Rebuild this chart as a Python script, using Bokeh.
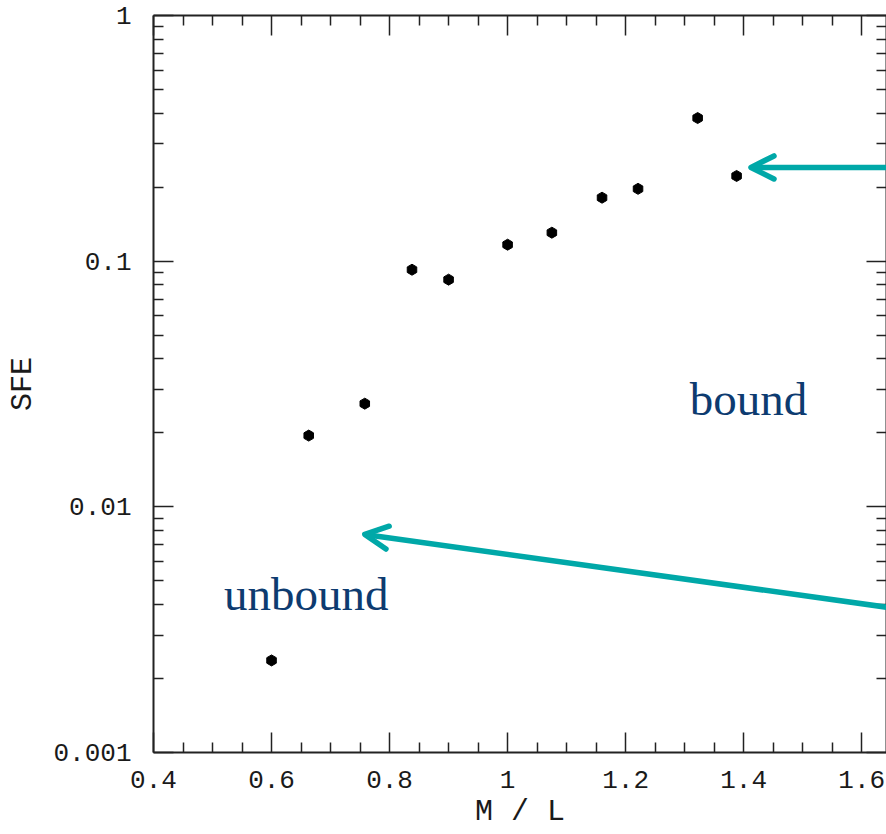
import numpy as np
from bokeh.plotting import figure
from bokeh.models import (LinearAxis, LogAxis, FixedTicker, CustomJSTickFormatter,
                          Arrow, OpenHead, Label, Range1d, ColumnDataSource)
from bokeh.embed import file_html
from bokeh.resources import INLINE

# ---- data ----
ml = [0.600, 0.663, 0.758, 0.838, 0.900, 1.000, 1.075, 1.160, 1.221, 1.322, 1.388]
sfe = [0.00237, 0.0195, 0.0263, 0.0923, 0.0841, 0.1167, 0.1306, 0.1813, 0.197, 0.3825, 0.2222]

x_ticks = [0.4, 0.6, 0.8, 1.0, 1.2, 1.4, 1.6]
x_tick_labels = ["0.4", "0.6", "0.8", "1", "1.2", "1.4", "1.6"]
y_ticks = [0.001, 0.01, 0.1, 1.0]
y_tick_labels = ["0.001", "0.01", "0.1", "1"]

x_min, x_max = 0.4, 1.642
y_min, y_max = 0.001, 1.0

x_minor = [round(v, 2) for v in np.arange(0.4, 1.70, 0.05) if round(v, 2) not in x_ticks]
y_minor = [m * 10.0 ** e for e in (-3, -2, -1) for m in range(2, 10)]

TEAL = "#00a8a8"
NAVY = "#0d3b70"
AX = "#222222"
TICK_FONT = "Liberation Mono"

p = figure(width=886, height=834, x_range=Range1d(x_min, x_max),
           y_range=Range1d(y_min, y_max), y_axis_type="log",
           output_backend="svg", toolbar_location=None,
           min_border_left=153, min_border_right=0, min_border_top=15,
           min_border_bottom=82, background_fill_color="white",
           border_fill_color="white")
p.xgrid.visible = False
p.ygrid.visible = False
p.outline_line_color = None

xt = FixedTicker(ticks=x_ticks, minor_ticks=x_minor)
yt = FixedTicker(ticks=y_ticks, minor_ticks=y_minor)


def style(ax):
    ax.major_tick_in = 20
    ax.major_tick_out = 0
    ax.minor_tick_in = 10
    ax.minor_tick_out = 0
    ax.axis_line_width = 2
    ax.axis_line_color = AX
    ax.major_tick_line_width = 1.5
    ax.minor_tick_line_width = 1.5
    ax.major_tick_line_color = AX
    ax.minor_tick_line_color = AX
    ax.major_label_text_font = TICK_FONT
    ax.major_label_text_font_size = "26px"
    ax.major_label_text_color = "#1a1a1a"
    ax.axis_label_text_font = TICK_FONT
    ax.axis_label_text_font_size = "30px"
    ax.axis_label_text_font_style = "normal"
    ax.axis_label_text_color = "#1a1a1a"


xb = p.xaxis[0]
xb.ticker = xt
xb.major_label_overrides = dict(zip(x_ticks, x_tick_labels))
style(xb)
xb.major_label_standoff = 18
xb.axis_label = "M / L"
xb.axis_label_standoff = 4

yl = p.yaxis[0]
yl.ticker = yt
yl.major_label_overrides = dict(zip(y_ticks, y_tick_labels))
style(yl)
yl.major_label_standoff = 22
yl.axis_label = "SFE"
yl.axis_label_standoff = 10

blank = "return ''"
xa = LinearAxis(ticker=xt, formatter=CustomJSTickFormatter(code=blank))
style(xa)
xa.major_label_standoff = 0
xa.major_label_text_font_size = "0px"
p.add_layout(xa, "above")

yr = LogAxis(ticker=yt, formatter=CustomJSTickFormatter(code=blank))
style(yr)
yr.major_label_standoff = 0
yr.major_label_text_font_size = "0px"
p.add_layout(yr, "right")

src = ColumnDataSource(dict(x=ml, y=sfe))
p.scatter("x", "y", source=src, marker="hex", size=11, angle=np.pi / 2,
          fill_color="black", line_color="black")

# arrows
arrow1 = Arrow(end=OpenHead(size=23, line_color=TEAL, line_width=5.5,
                            line_cap="round", line_join="round"),
               x_start=x_max, y_start=0.2407, x_end=1.4124, y_end=0.2407,
               line_color=TEAL, line_width=5.5)
arrow2 = Arrow(end=OpenHead(size=23, line_color=TEAL, line_width=5.5,
                            line_cap="round", line_join="round"),
               x_start=x_max, y_start=0.003903, x_end=0.758, y_end=0.00772,
               line_color=TEAL, line_width=5.5)
p.add_layout(arrow1)
p.add_layout(arrow2)

p.add_layout(Label(x=1.3085, y=0.0275, text="bound", text_font="Liberation Serif",
                   text_font_size="47px", text_color=NAVY, text_baseline="alphabetic"))
p.add_layout(Label(x=0.5195, y=0.00442, text="unbound", text_font="Liberation Serif",
                   text_font_size="47px", text_color=NAVY, text_baseline="alphabetic"))

open("out.html", "w").write(file_html(p, INLINE))
